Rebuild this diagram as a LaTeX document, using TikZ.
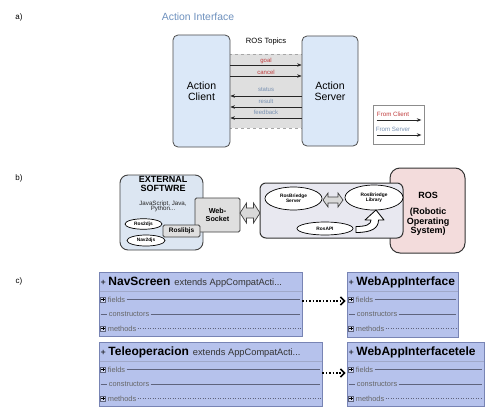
\documentclass[tikz,border=0pt]{standalone}
\usepackage{fontspec}
\setmainfont{Liberation Sans}
\usetikzlibrary{shapes.geometric,arrows.meta}
\definecolor{aboxfill}{RGB}{219,232,248}
\definecolor{titleblue}{RGB}{110,145,190}
\definecolor{cred}{RGB}{192,60,60}
\definecolor{sblue}{RGB}{120,145,178}
\definecolor{extfill}{RGB}{220,230,242}
\definecolor{rosfill}{RGB}{243,220,220}
\definecolor{brfill}{RGB}{232,232,240}
\definecolor{clsfill}{RGB}{182,194,236}
\definecolor{clsdraw}{RGB}{120,132,180}
\definecolor{rowcol}{RGB}{95,100,125}
\newcommand{\fs}[1]{\fontsize{#1}{#1}\selectfont}
\newcommand{\plusicon}[2]{%
  \draw[rowcol, fill=clsfill!60!white, line width=0.5pt] ({#1-2.7},{#2-2.7}) rectangle ({#1+2.7},{#2+2.7});
  \draw[black, line width=0.6pt] ({#1-1.7},{#2}) -- ({#1+1.7},{#2}) ({#1},{#2-1.7}) -- ({#1},{#2+1.7});}
\newcommand{\umlcls}[7]{%
  \node[clsbox, minimum width={(#4-#2)*1pt}, minimum height={(#5-#3)*1pt}] (#1) at ({(#2+#4)/2},{(#3+#5)/2}) {};
  \draw[clsdraw!70!white, line width=0.5pt] ({#2+0.5},{#3+19}) -- ({#4-0.5},{#3+19});
  \node[anchor=west, inner sep=0pt] (#1-t) at ({#2+1.5},{#3+10.5}) {\fs{9}+ {\fs{12}\bfseries #6}\hspace{4pt}{\fs{9.3}\color{black!80}#7}};
  \plusicon{#2+4}{#3+27.5}
  \node[rowtxt] (#1-f) at ({#2+7.5},{#3+27.5}) {fields};
  \draw[rowline] (#1-f.east) -- ([xshift=-2pt]#1.east |- #1-f.east);
  \draw[rowline] ({#2+1.5},{#3+42}) -- ({#2+8},{#3+42});
  \node[rowtxt] (#1-c) at ({#2+8.5},{#3+42}) {constructors};
  \draw[rowline] (#1-c.east) -- ([xshift=-2pt]#1.east |- #1-c.east);
  \plusicon{#2+4}{#3+56.5}
  \node[rowtxt] (#1-m) at ({#2+7.5},{#3+56.5}) {methods};
  \draw[rowline, dotted] (#1-m.east) -- ([xshift=-2pt]#1.east |- #1-m.east);
}
\begin{document}
\begin{tikzpicture}[x=1pt,y=-1pt,
  partlbl/.style={font=\fs{8}, inner sep=0pt},
  abox/.style={draw=black!70, line width=0.8pt, fill=aboxfill, rounded corners=5pt, align=center, font=\fs{10.5}},
  tarr/.style={black!85, line width=0.6pt, -{Stealth[length=4.5pt,width=3.5pt]}},
  tlbl/.style={font=\fs{6}, inner sep=0pt},
  ell/.style={ellipse, draw=black, line width=0.7pt, fill=white, inner sep=0pt, align=center, font=\fs{4.8}\bfseries},
  gbox/.style={draw=black!75, line width=0.8pt, fill=gray!25, rounded corners=1.5pt, align=center, font=\bfseries},
  hollow/.style={draw=black!75, line width=0.7pt, fill=gray!30},
  clsbox/.style={draw=clsdraw, line width=0.8pt, fill=clsfill, inner sep=0pt},
  rowtxt/.style={anchor=west, inner sep=1.2pt, font=\fs{7.4}, text=black!60},
  rowline/.style={rowcol, line width=0.5pt},
  dotarr/.style={line width=1.8pt, dash pattern=on 1.6pt off 1.8pt, -{Straight Barb[length=4pt,width=8pt,line width=1.6pt]}}
]
\useasboundingbox (0,0) rectangle (486,412);
\fill[white] (0,0) rectangle (486,412);

% ---------------- a) ----------------
\node[partlbl] (pa) at (19,17) {a)};
\node[font=\fs{10.4}, text=titleblue, inner sep=0pt] (ai) at (198,17) {Action Interface};
\fill[gray!25] (229,54) rectangle (303,128);
\draw[gray!70, dashed, line width=0.5pt] (229,54) -- (303,54) (229,128) -- (303,128);
\node[abox, minimum width=57pt, minimum height=112pt] (client) at (201.5,91) {Action\\Client};
\node[abox, minimum width=56pt, minimum height=110pt] (server) at (330,91) {Action\\Server};
\node[font=\fs{7.6}, inner sep=0pt] (topics) at (266,42) {ROS Topics};
\node[tlbl, text=cred] (goal) at (266,61) {goal};
\node[tlbl, text=cred] (cancel) at (266,72) {cancel};
\node[tlbl, text=sblue] (status) at (266,90) {status};
\node[tlbl, text=sblue] (result) at (266,101) {result};
\node[tlbl, text=sblue] (feedback) at (266,112) {feedback};
\draw[tarr] (client.east |- 0,65) -- (server.west |- 0,65);
\draw[tarr] (client.east |- 0,76) -- (server.west |- 0,76);
\draw[tarr] (server.west |- 0,96) -- (client.east |- 0,96);
\draw[tarr] (server.west |- 0,107) -- (client.east |- 0,107);
\draw[tarr] (server.west |- 0,118) -- (client.east |- 0,118);
\node[draw=black!45, line width=0.6pt, minimum width=51pt, minimum height=39pt, inner sep=0pt] (legend) at (398.5,124.5) {};
\node[tlbl, text=cred, font=\fs{6.2}] (fc) at (393,114) {From Client};
\node[tlbl, text=sblue, font=\fs{6.2}] (fsv) at (393,129) {From Server};
\draw[tarr] ([xshift=4pt]legend.west |- 0,120) -- ([xshift=-3pt]legend.east |- 0,120);
\draw[tarr] ([xshift=4pt]legend.west |- 0,135) -- ([xshift=-3pt]legend.east |- 0,135);

% ---------------- b) ----------------
\node[partlbl] (pb) at (19,178) {b)};
\node[draw=black!75, line width=0.9pt, fill=extfill, rounded corners=8pt, minimum width=83pt, minimum height=75pt, inner sep=0pt] (ext) at (161.5,212.5) {};
\node[align=center, font=\fs{9}\bfseries, inner sep=0pt] (exttxt) at (163,184) {EXTERNAL\\[-0.5pt]SOFTWRE};
\node[align=center, font=\fs{6.2}, inner sep=0pt, text=black!85] (langs) at (163,206) {JavaScript, Java,\\[-1pt]Python...};
\node[gbox, minimum width=45pt, minimum height=34pt, inner sep=0pt, font=\fs{7.2}\bfseries] (ws) at (217.5,215) {Web-\\[1pt]Socket};
\node[gbox, minimum width=37pt, minimum height=12pt, inner sep=0pt, font=\fs{6.5}\bfseries] (roslib) at (181.5,231) {Roslibjs};
\node[ell, minimum width=37pt, minimum height=10.5pt] (ros2d) at (143.5,224) {Ros2djs};
\node[ell, minimum width=38pt, minimum height=11pt] (nav2d) at (146,240.5) {Nav2djs};
% big double arrow
\draw[hollow] (240,213) -- (246.5,203) -- (246.5,208) -- (253.5,208) -- (253.5,203) -- (260,213) -- (253.5,223) -- (253.5,218) -- (246.5,218) -- (246.5,223) -- cycle;
\node[draw=black!80, line width=1pt, fill=rosfill, rounded corners=10pt, minimum width=75pt, minimum height=85pt, inner sep=0pt] (ros) at (427.5,210.5) {};
\node[draw=black!80, line width=1pt, fill=brfill, rounded corners=6pt, minimum width=143pt, minimum height=55pt, inner sep=0pt] (bridge) at (331.5,210.5) {};
\node[font=\fs{9}\bfseries, inner sep=0pt] (rostitle) at (428,195) {ROS};
\node[font=\fs{9}\bfseries, align=center, inner sep=0pt] (rostxt) at (428,222) {(Robotic\\[0.5pt]Operating\\[0.5pt]System)};
\node[ell, minimum width=57pt, minimum height=23pt] (rbs) at (293.5,198.5) {RosBriedge\\Server};
\node[ell, minimum width=58pt, minimum height=25pt] (rbl) at (374,197.5) {RosBriedge\\Library};
\node[ell, minimum width=56pt, minimum height=13pt] (rosapi) at (325,228.5) {RosAPI};
% small double arrow
\draw[hollow] (323,200) -- (328,193) -- (328,197) -- (338,197) -- (338,193) -- (343,200) -- (338,207) -- (338,203) -- (328,203) -- (328,207) -- cycle;
% curved hollow arrow
\draw[black, line width=0.8pt, fill=white, line join=round] (356,226.5) -- (356,232.5) .. controls (372,232.5) and (378.5,228) .. (378.5,220) -- (384,220) -- (376,210) -- (365,220) -- (371,220) .. controls (371,224.5) and (366,226.5) .. (356,226.5) -- cycle;

% ---------------- c) ----------------
\node[partlbl] (pc) at (19,281) {c)};
\umlcls{nav}{99}{272}{302}{336}{NavScreen}{extends AppCompatActi...}
\umlcls{wai}{347}{272}{458}{337}{WebAppInterface}{}
\umlcls{tel}{99}{342}{322}{406}{Teleoperacion}{extends AppCompatActi...}
\umlcls{wait}{347}{342}{484}{406}{WebAppInterfacetele}{}
\draw[dotarr] (nav.east |- 0,301) -- ([xshift=-1pt]wai.west |- 0,301);
\draw[dotarr] (tel.east |- 0,373) -- ([xshift=-1pt]wait.west |- 0,373);
\end{tikzpicture}
\end{document}
